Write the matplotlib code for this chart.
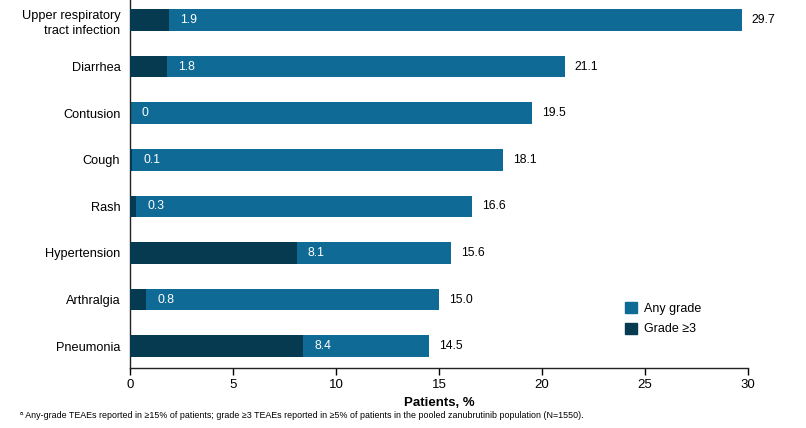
import matplotlib
matplotlib.use("Agg")
import matplotlib.pyplot as plt
from matplotlib.patches import Patch

plt.rcParams['font.family'] = ['Liberation Sans', 'DejaVu Sans']

categories = ["Upper respiratory\ntract infection", "Diarrhea", "Contusion", "Cough",
              "Rash", "Hypertension", "Arthralgia", "Pneumonia"]
any_grade = [29.7, 21.1, 19.5, 18.1, 16.6, 15.6, 15.0, 14.5]
grade3 = [1.9, 1.8, 0, 0.1, 0.3, 8.1, 0.8, 8.4]
any_labels = ["29.7", "21.1", "19.5", "18.1", "16.6", "15.6", "15.0", "14.5"]
g3_labels = ["1.9", "1.8", "0", "0.1", "0.3", "8.1", "0.8", "8.4"]
xticks = [0, 5, 10, 15, 20, 25, 30]

c_any = "#106a96"
c_g3 = "#053a51"

fig = plt.figure(figsize=(8.06, 4.28), dpi=100)
ax = fig.add_axes([130/806, 1 - 368/428, (748 - 130)/806, 368/428])

y = list(range(len(categories)))
h = 0.465
ax.barh(y, any_grade, height=h, color=c_any, zorder=2)
ax.barh(y, grade3, height=h, color=c_g3, zorder=3)

for yi, a, g, al, gl in zip(y, any_grade, grade3, any_labels, g3_labels):
    ax.annotate(gl, (g, yi), xytext=(11, 0), textcoords="offset pixels",
                ha="left", va="center", color="white", fontsize=8.8, zorder=4)
    ax.annotate(al, (a, yi), xytext=(10, 0), textcoords="offset pixels",
                ha="left", va="center", color="black", fontsize=8.8, zorder=4)

ax.set_ylim(7.47, -0.43)
ax.set_xlim(0, 30)
ax.set_xticks(xticks)
ax.set_xticklabels([str(t) for t in xticks], fontsize=9.5)
ax.set_yticks(y)
ax.set_yticklabels(categories, fontsize=9.2, linespacing=1.35)
ax.tick_params(axis="y", length=0, pad=7)
ax.tick_params(axis="x", length=5, width=1, pad=3, direction="out")
for s in ["top", "right"]:
    ax.spines[s].set_visible(False)
for s in ["left", "bottom"]:
    ax.spines[s].set_linewidth(1.0)
    ax.spines[s].set_color("#222222")

ax.set_xlabel("Patients, %", fontsize=9.5, fontweight="bold", labelpad=4)

handles = [Patch(color=c_any, label="Any grade"), Patch(color=c_g3, label="Grade \u22653")]
ax.legend(handles=handles, loc="upper left", bbox_to_anchor=(0.793, 0.193),
          frameon=False, fontsize=9, handlelength=0.95, handleheight=0.95,
          handletextpad=0.55, labelspacing=0.65, borderaxespad=0)

fig.text(20/806, 1 - 416/428, "\u1d43 Any-grade TEAEs reported in \u226515% of patients; grade \u22653 TEAEs reported in \u22655% of patients in the pooled zanubrutinib population (N=1550).",
         fontsize=6.4, ha="left", va="center")

fig.savefig("out.png", dpi=100)
